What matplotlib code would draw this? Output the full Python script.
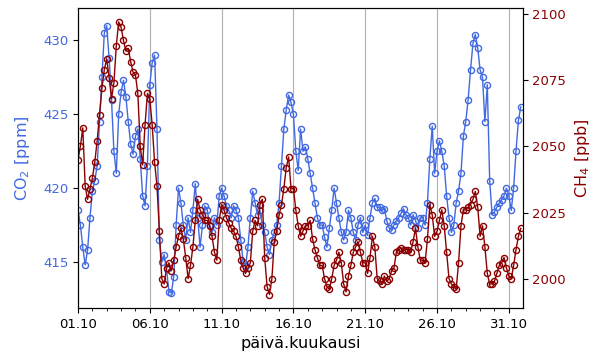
import matplotlib
matplotlib.use("Agg")
import matplotlib.pyplot as plt
import matplotlib.dates as mdates
import numpy as np
import pandas as pd

# 4-hourly readings, 1.10 00:00 ... 31.10 20:00 (6 per day)
co2 = [
    418.5, 417.5, 416.0, 414.8, 415.8, 418.0,   # 1.10
    419.8, 420.5, 421.5, 424.5, 427.5, 430.5,   # 2.10
    431.0, 428.8, 426.0, 422.5, 421.0, 425.0,   # 3.10
    426.5, 427.3, 426.2, 424.5, 423.0, 422.3,   # 4.10
    423.5, 424.0, 422.0, 419.5, 418.8, 421.5,   # 5.10
    427.0, 428.5, 429.0, 424.0, 416.5, 415.0,   # 6.10
    415.5, 414.5, 413.0, 412.9, 414.0, 417.5,   # 7.10
    420.0, 419.0, 417.5, 416.5, 418.0, 417.0,   # 8.10
    418.5, 420.3, 418.0, 416.0, 417.5, 418.8,   # 9.10
    418.5, 417.5, 417.0, 418.0, 417.5, 419.5,   # 10.10
    420.0, 419.5, 418.8, 418.5, 418.0, 418.8,   # 11.10
    418.5, 418.0, 416.5, 415.0, 414.7, 416.0,   # 12.10
    418.0, 419.8, 419.0, 418.2, 418.5, 417.5,   # 13.10
    417.0, 416.0, 415.5, 416.5, 417.0, 417.5,   # 14.10
    419.0, 421.5, 424.0, 425.3, 426.3, 425.8,   # 15.10
    425.0, 422.5, 421.2, 424.0, 422.5, 422.8,   # 16.10
    422.0, 421.0, 420.0, 419.0, 418.0, 417.5,   # 17.10
    417.5, 416.7, 416.0, 417.3, 418.5, 420.0,   # 18.10
    419.0, 418.0, 417.0, 416.5, 417.0, 418.5,   # 19.10
    418.0, 417.0, 416.5, 417.5, 418.0, 417.0,   # 20.10
    417.5, 416.8, 418.0, 419.0, 419.3, 418.7,   # 21.10
    418.7, 418.5, 418.6, 417.8, 417.3, 417.2,   # 22.10
    417.5, 417.8, 418.0, 418.3, 418.6, 418.2,   # 23.10
    418.0, 417.5, 418.2, 417.8, 417.3, 418.0,   # 24.10
    418.0, 417.5, 419.0, 422.0, 424.2, 421.0,   # 25.10
    422.5, 423.2, 422.5, 421.5, 419.5, 418.0,   # 26.10
    417.0, 417.5, 419.0, 419.8, 421.0, 423.5,   # 27.10
    424.5, 426.0, 428.0, 429.8, 430.4, 429.5,   # 28.10
    428.0, 427.5, 424.5, 427.0, 420.5, 418.2,   # 29.10
    418.4, 418.7, 419.0, 419.2, 419.5, 420.0,   # 30.10
    419.5, 418.5, 420.0, 422.5, 424.6, 425.5,   # 31.10
]

ch4 = [
    2045, 2050, 2057, 2035, 2030, 2034,
    2038, 2044, 2052, 2062, 2072, 2079,
    2083, 2076, 2068, 2074, 2088, 2097,
    2095, 2090, 2086, 2087, 2082, 2078,
    2077, 2070, 2050, 2043, 2058, 2070,
    2068, 2058, 2044, 2035, 2018, 2000,
    1998, 2004, 2006, 2003, 2007, 2012,
    2016, 2019, 2015, 2008, 2000, 2005,
    2012, 2022, 2030, 2026, 2024, 2022,
    2022, 2020, 2016, 2010, 2007, 2022,
    2028, 2026, 2023, 2021, 2019, 2018,
    2016, 2012, 2007, 2004, 2002, 2004,
    2006, 2018, 2022, 2020, 2028, 2030,
    2008, 1997, 1994, 2000, 2014, 2018,
    2024, 2028, 2034, 2042, 2046, 2034,
    2034, 2026, 2020, 2016, 2018, 2020,
    2020, 2022, 2015, 2011, 2008, 2005,
    2005, 2000, 1997, 1996, 2000, 2005,
    2007, 2010, 2006, 1998, 1995, 2001,
    2005, 2010, 2012, 2014, 2010, 2006,
    2006, 2002, 2008, 2016, 2012, 2000,
    1999, 1998, 2001, 1999, 2000, 2003,
    2004, 2010, 2011, 2011.5, 2011, 2011,
    2011, 2010, 2014, 2019, 2012, 2007,
    2007, 2006, 2015, 2028, 2024, 2016,
    2018, 2022, 2026, 2020, 2010, 2000,
    1998, 1997, 1996, 2006, 2020, 2026,
    2026, 2027, 2028, 2030, 2033, 2027,
    2016, 2020, 2012, 2002, 1998, 1998,
    1999, 2002, 2005, 2006, 2008, 2004,
    2001, 2000, 2005, 2011, 2016, 2019,
]

times = pd.date_range("2021-10-01 00:00", periods=len(co2), freq="4h")
x_start = pd.Timestamp("2021-10-01 00:00")
x_end = pd.Timestamp("2021-10-31 23:00")

co2_color = "royalblue"
ch4_color = "darkred"

fig = plt.figure(figsize=(6, 3.6), dpi=100)
ax1 = fig.add_axes([0.13, 0.145, 0.741, 0.833])
ax2 = ax1.twinx()

ax1.plot(times, co2, color=co2_color, marker="o", markersize=4.4,
         markerfacecolor="none", markeredgewidth=1.0, linewidth=1.0)
ax2.plot(times, ch4, color=ch4_color, marker="o", markersize=4.4,
         markerfacecolor="none", markeredgewidth=1.0, linewidth=1.0)

ax1.set_xlim(x_start, x_end)
ax1.set_ylim(411.9, 432.2)
ax2.set_ylim(1989, 2102.3)
ax1.set_yticks([415, 420, 425, 430])
ax2.set_yticks([2000, 2025, 2050, 2075, 2100])

ax1.xaxis.set_major_locator(mdates.DayLocator(bymonthday=[1, 6, 11, 16, 21, 26, 31]))
ax1.xaxis.set_minor_locator(mdates.DayLocator())
ax1.xaxis.set_major_formatter(mdates.DateFormatter("%d.%m"))
ax1.grid(True, axis="x", which="major", color="#b0b0b0", linewidth=0.8)
ax1.set_axisbelow(True)

ax1.tick_params(axis="x", labelsize=9.5)
ax1.tick_params(axis="y", labelsize=9.5, labelcolor=co2_color)
ax2.tick_params(axis="y", labelsize=9.5, labelcolor=ch4_color)

ax1.set_xlabel("päivä.kuukausi", fontsize=11.5)
ax1.set_ylabel("CO$_2$ [ppm]", fontsize=11.5, color=co2_color, labelpad=8)
ax2.set_ylabel("CH$_4$ [ppb]", fontsize=11.5, color=ch4_color, labelpad=5)

fig.savefig("out.png", dpi=100)
